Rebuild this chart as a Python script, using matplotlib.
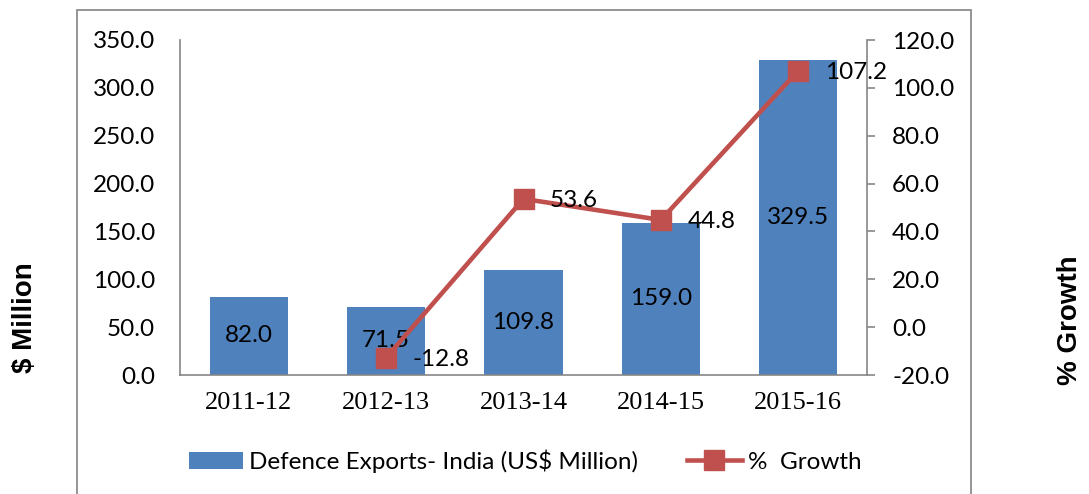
import matplotlib
matplotlib.use("Agg")
import matplotlib.pyplot as plt
import numpy as np
from matplotlib.patches import Rectangle

categories = ["2011-12", "2012-13", "2013-14", "2014-15", "2015-16"]
exports = [82.0, 71.5, 109.8, 159.0, 329.5]
growth = [np.nan, -12.8, 53.6, 44.8, 107.2]
left_ticks = [0, 50, 100, 150, 200, 250, 300, 350]
right_ticks = [-20, 0, 20, 40, 60, 80, 100, 120]

BLUE = "#4F81BD"
RED = "#C0504D"
GRAY = "#868686"
SANS = "Lato"
BOLD = "Liberation Sans"
SERIF = "Liberation Serif"
FS = 17.5

fig = plt.figure(figsize=(10.89, 4.94), dpi=100)
ax = fig.add_axes([180/1089, 1-375/494, (867-180)/1089, (375-40)/494])
x = np.arange(len(categories))
bars = ax.bar(x, exports, width=0.57, color=BLUE, zorder=2, label="Defence Exports- India (US$ Million)")
ax.set_xlim(-0.5, 4.5)
ax.set_ylim(0, 350)
ax.set_yticks(left_ticks)
ax.set_yticklabels([f"{v:.1f}" for v in left_ticks], fontfamily=SANS, fontsize=FS)
ax.set_xticks(x)
ax.set_xticklabels(categories, fontfamily=SERIF, fontsize=19)
ax.tick_params(axis="y", length=0, pad=18)
ax.tick_params(axis="x", length=0, pad=12)
for s in ["top", "right"]:
    ax.spines[s].set_visible(False)
for s in ["left", "bottom"]:
    ax.spines[s].set_color(GRAY)
    ax.spines[s].set_linewidth(1.2)

for xi, v in zip(x, exports):
    ax.text(xi, v/2, f"{v:.1f}", ha="center", va="center", fontfamily=SANS, fontsize=FS, zorder=3)

ax2 = ax.twinx()
ax2.set_ylim(-20, 120)
ax2.set_yticks(right_ticks)
ax2.set_yticklabels([f"{v:.1f}" for v in right_ticks], fontfamily=SANS, fontsize=FS)
ax2.tick_params(axis="y", length=6, color=GRAY, width=1.2, pad=12, direction="out")
for s in ["top", "left", "bottom"]:
    ax2.spines[s].set_visible(False)
ax2.spines["right"].set_color(GRAY)
ax2.spines["right"].set_linewidth(1.2)
line, = ax2.plot(x, growth, color=RED, lw=3.3, marker="s", markersize=14, zorder=4, label="%  Growth")
for xi, g in zip(x, growth):
    if not np.isnan(g):
        ax2.annotate(f"{g:.1f}", (xi, g), xytext=(19, -1), textcoords="offset points",
                     ha="left", va="center", fontfamily=SANS, fontsize=FS, zorder=5)

fig.text(25/1089, 1-318/494, "$ Million", rotation=90, ha="center", va="center",
         fontfamily=BOLD, fontweight="bold", fontsize=20)
fig.text(1070/1089, 1-320/494, "% Growth", rotation=90, ha="center", va="center",
         fontfamily=BOLD, fontweight="bold", fontsize=20)

leg = fig.legend([bars, line], ["Defence Exports- India (US$ Million)", "%  Growth"],
                 loc="center", bbox_to_anchor=(525/1089, 1-461/494), ncol=2, frameon=False,
                 prop={"family": SANS, "size": FS}, handlelength=2.25, handletextpad=0.25,
                 columnspacing=2.0)

fig.patches.append(Rectangle((77/1089, -0.05), (971-77)/1089, 1-10/494+0.05,
                             transform=fig.transFigure, fill=False, edgecolor="#8C8C8C", lw=1.3))

fig.savefig("out.png", dpi=100)
